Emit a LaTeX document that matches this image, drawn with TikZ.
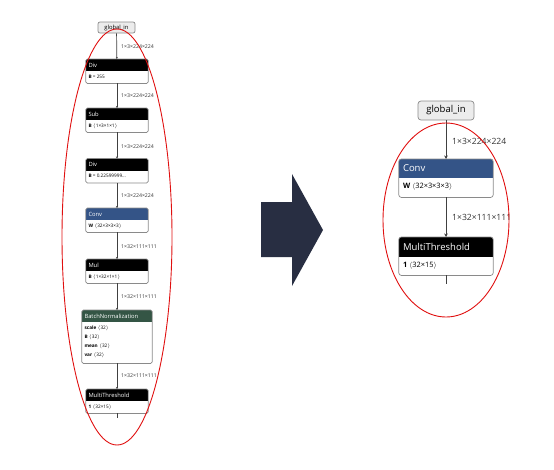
\documentclass[tikz,border=0pt]{standalone}
\usepackage{fontspec}
\setmainfont{Open Sans}
\usetikzlibrary{calc,arrows.meta}
\definecolor{convblue}{HTML}{345487}
\definecolor{bngreen}{HTML}{345545}
\definecolor{arrowc}{HTML}{282E42}
\definecolor{boxgray}{HTML}{8A8A8A}
\definecolor{ellred}{HTML}{E01010}
\newcommand\nbox[9]{%
  \node[boxbase, minimum width=#4, minimum height=#5+#6, anchor=north] (#1) at (#2,#3) {};
  \begin{scope}
    \clip[rounded corners=\rc] (#1.north west) rectangle (#1.south east);
    \fill[#7] (#1.north west) rectangle ([yshift=-#5]#1.north east);
  \end{scope}
  \draw[boxline, rounded corners=\rc] (#1.north west) rectangle (#1.south east);
  \node[ttl, anchor=west] (#1-t) at ([xshift=\tx, yshift=-#5/2]#1.north west) {#8};
  \node[bdy, anchor=north west] (#1-b) at ([xshift=\tx, yshift=-#5-\by]#1.north west) {#9};
}
\tikzset{
  boxbase/.style={draw=none, fill=white, inner sep=0pt, rectangle},
  boxline/.style={draw=boxgray, line width=0.7pt},
  ttl/.style={text=white, inner sep=0pt},
  bdy/.style={text=black, inner sep=0pt, align=left},
  inbox/.style={draw=boxgray, fill=gray!15, rounded corners=2pt, line width=0.7pt, inner sep=0pt, text=black},
  edge/.style={draw=black!75, line width=0.7pt},
  lbl/.style={text=black!80, inner sep=0pt, anchor=west},
  ell/.style={draw=ellred, line width=0.9pt},
}
\begin{document}
\begin{tikzpicture}[x=1pt,y=-1pt]
\useasboundingbox (0,0) rectangle (554,469);
% ---------------- left graph ----------------
\begin{scope}[ttl/.append style={font=\fontsize{5.8}{6}\selectfont},
  bdy/.append style={font=\fontsize{4.7}{9}\selectfont},
  lbl/.append style={font=\fontsize{5.2}{6}\selectfont}]
\def\rc{1.5pt}\def\tx{2.5pt}\def\by{3.6pt}
\node[inbox, minimum width=37, minimum height=11, font=\fontsize{5.8}{6}\selectfont] (gin) at (116.5,27.5) {global\_in};
\nbox{div1}{117}{59}{62}{12}{12}{black}{Div}{\textbf{B} = 255}
\nbox{sub}{117}{108}{62}{12}{12}{black}{Sub}{\textbf{B} $\langle$1×3×1×1$\rangle$}
\nbox{div2}{117}{158.5}{62}{12}{12}{black}{Div}{\textbf{B} = 0.22599999...}
\nbox{conv}{117}{208}{62}{12}{12}{convblue}{Conv}{\textbf{W} $\langle$32×3×3×3$\rangle$}
\nbox{mul}{117}{259}{62}{12}{12}{black}{Mul}{\textbf{B} $\langle$1×32×1×1$\rangle$}
\nbox{bn}{117}{310}{70}{12}{41}{bngreen}{BatchNormalization}{\textbf{scale} $\langle$32$\rangle$\\\textbf{B} $\langle$32$\rangle$\\\textbf{mean} $\langle$32$\rangle$\\\textbf{var} $\langle$32$\rangle$}
\nbox{mt}{117}{389}{62}{12}{12}{black}{MultiThreshold}{\textbf{1} $\langle$32×15$\rangle$}
\coordinate (lend) at (117,418);
\draw[edge, -{Stealth[length=2pt,width=2pt]}] (gin) -- (div1);
\draw[edge, -{Stealth[length=2pt,width=2pt]}] (div1) -- (sub);
\draw[edge, -{Stealth[length=2pt,width=2pt]}] (sub) -- (div2);
\draw[edge, -{Stealth[length=2pt,width=2pt]}] (div2) -- (conv);
\draw[edge, -{Stealth[length=2pt,width=2pt]}] (conv) -- (mul);
\draw[edge, -{Stealth[length=2pt,width=2pt]}] (mul) -- (bn);
\draw[edge, -{Stealth[length=2pt,width=2pt]}] (bn) -- (mt);
\draw[edge] (mt) -- (lend);
\node[lbl] (l1) at (121,47) {1×3×224×224};
\node[lbl] (l2) at (121,96) {1×3×224×224};
\node[lbl] (l3) at (121,147) {1×3×224×224};
\node[lbl] (l4) at (121,196) {1×3×224×224};
\node[lbl] (l5) at (121,247) {1×32×111×111};
\node[lbl] (l6) at (121,297) {1×32×111×111};
\node[lbl] (l7) at (121,376) {1×32×111×111};
\end{scope}
\draw[ell] (117,237) ellipse [x radius=55, y radius=208];
% ---------------- big arrow ----------------
\fill[arrowc] (261,202) -- (292,202) -- (292,174) -- (323,230) -- (292,286) -- (292,257) -- (261,257) -- cycle;
% ---------------- right graph ----------------
\begin{scope}[ttl/.append style={font=\fontsize{9.5}{10}\selectfont},
  bdy/.append style={font=\fontsize{7.4}{9}\selectfont},
  lbl/.append style={font=\fontsize{8.6}{10}\selectfont}]
\def\rc{2.5pt}\def\tx{4pt}\def\by{5pt}
\node[inbox, minimum width=56, minimum height=19, rounded corners=3pt, font=\fontsize{9.5}{10}\selectfont] (rgin) at (446,110.5) {global\_in};
\nbox{rconv}{446}{159}{94}{19}{19}{convblue}{Conv}{\textbf{W} $\langle$32×3×3×3$\rangle$}
\nbox{rmt}{446}{237}{94}{20}{18}{black}{MultiThreshold}{\textbf{1} $\langle$32×15$\rangle$}
\coordinate (rend) at (446,284);
\draw[edge, -{Stealth[length=3.5pt,width=3.5pt]}] (rgin) -- (rconv);
\draw[edge, -{Stealth[length=3.5pt,width=3.5pt]}] (rconv) -- (rmt);
\draw[edge] (rmt) -- (rend);
\node[lbl] (r1) at (452,141) {1×3×224×224};
\node[lbl] (r2) at (452,217) {1×32×111×111};
\end{scope}
\draw[ell] (446,220) ellipse [x radius=63, y radius=97];
\end{tikzpicture}
\end{document}
